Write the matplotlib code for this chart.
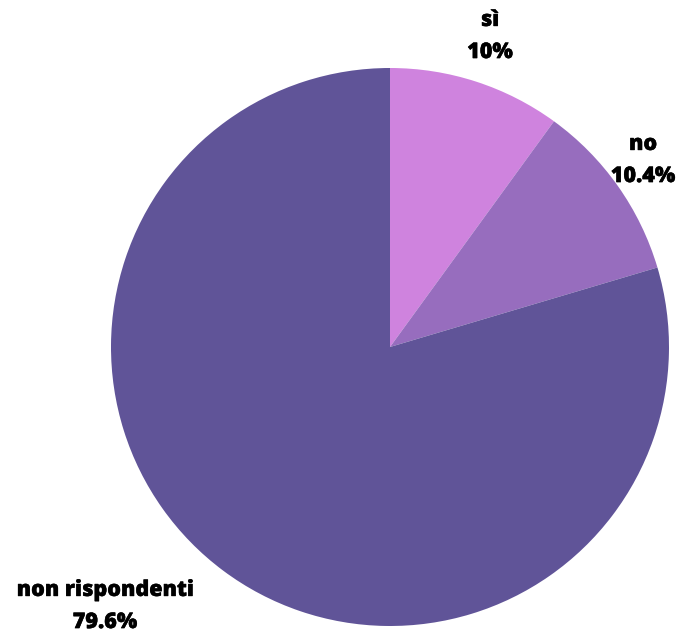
import matplotlib.pyplot as plt
import matplotlib.patheffects as pe

# risposte al quesito
categorie = ["sì", "no", "non rispondenti"]
percentuali = [10, 10.4, 79.6]
etichette = ["10%", "10.4%", "79.6%"]
colori = ["#CF83DE", "#976DBE", "#605498"]

fig = plt.figure(figsize=(6.93, 6.33), dpi=100)
ax = fig.add_axes([0, 0, 1, 1])

# torta: parte dall'alto, senso orario
ax.pie(percentuali, colors=colori, startangle=90, counterclock=False,
       center=(390, 286), radius=279, frame=True,
       wedgeprops=dict(linewidth=0))
ax.set_xlim(0, 693)
ax.set_ylim(0, 633)
ax.set_aspect("equal")
ax.axis("off")

# posizioni testo (x, y in pixel dal basso)
pos_testo = [(490, 597), (643, 473), (105, 27)]
for cat, et, (x, y) in zip(categorie, etichette, pos_testo):
    ax.text(x, y, f"{cat}\n{et}", ha="center", va="center",
            fontsize=15.5, fontweight="heavy", family=["Open Sans", "DejaVu Sans"],
            linespacing=1.45, color="black",
            path_effects=[pe.withStroke(linewidth=0.35, foreground="black")])

fig.savefig("out.png", dpi=100)
